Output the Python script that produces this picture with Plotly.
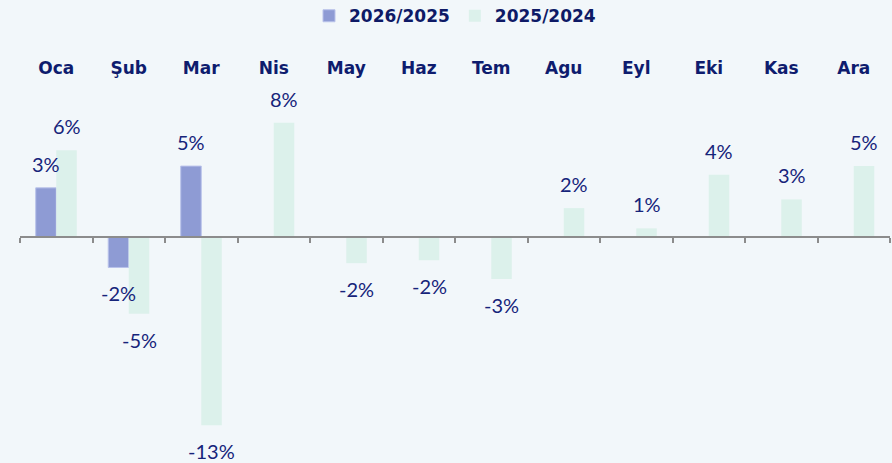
import plotly.graph_objects as go

months = ["Oca", "Şub", "Mar", "Nis", "May", "Haz", "Tem", "Agu", "Eyl", "Eki", "Kas", "Ara"]
s2026_name = "2026/2025"
s2025_name = "2025/2024"
s2026 = [3.4, -2.1, 4.9, None, None, None, None, None, None, None, None, None]
s2025 = [6.0, -5.3, -13.0, 7.9, -1.8, -1.6, -2.9, 2.0, 0.6, 4.3, 2.6, 4.9]

c2026 = "#8E9BD4"
c2025 = "#DCF1EB"
navy = "#16247A"
bg = "#F2F7FA"

bargap = 0.434
ymin, ymax = -15.6, 10.5

fig = go.Figure()
fig.add_trace(go.Bar(name=s2026_name, x=months, y=s2026, marker=dict(color=c2026, line=dict(color="#B9C2EA", width=1))))
fig.add_trace(go.Bar(name=s2025_name, x=months, y=s2025, marker=dict(color=c2025, line=dict(width=0))))

# data labels
off = (1 - bargap) / 4
for series, sgn in ((s2026, -1), (s2025, 1)):
    for i, v in enumerate(series):
        if v is None:
            continue
        fig.add_annotation(
            x=i + sgn * off, y=v, xref="x", yref="y",
            text=f"{round(v):d}%", showarrow=False,
            yanchor="middle", yshift=24 if v > 0 else -26,
            font=dict(family="Lato", size=20, color=navy),
        )

# zero axis with boundary ticks
p0 = (0 - ymin) / (ymax - ymin)
fig.update_layout(
    xaxis2=dict(overlaying="x", anchor="free", position=p0, side="bottom",
                range=[-0.5, len(months) - 0.5], tickvals=[i - 0.5 for i in range(len(months) + 1)],
                showticklabels=False, ticks="outside", ticklen=5, tickwidth=2, tickcolor="#8C8C8C",
                showline=True, linewidth=2, linecolor="#8C8C8C", showgrid=False, zeroline=False),
)
fig.add_trace(go.Scatter(x=[], y=[], xaxis="x2", showlegend=False))

fig.update_layout(
    width=892, height=463,
    margin=dict(l=20, r=2, t=85, b=0),
    paper_bgcolor=bg, plot_bgcolor=bg,
    barmode="group", bargap=bargap, bargroupgap=0,
    xaxis=dict(side="top", type="category", showgrid=False, showline=False, ticks="",
               ticklabelstandoff=7,
               tickfont=dict(family="DejaVu Sans", size=17, color="#0E1C6E", weight="bold")),
    yaxis=dict(range=[ymin, ymax], visible=False, showgrid=False, zeroline=False),
    legend=dict(orientation="h", x=0.5, xanchor="center", y=0.965, yref="container", yanchor="middle",
                font=dict(family="DejaVu Sans", size=17, color="#0E1A66", weight="bold"),
                bgcolor="rgba(0,0,0,0)", itemwidth=30, tracegroupgap=0),
)

fig.write_html("out.html", config={"displayModeBar": False},
               post_script="document.body.style.margin='0';document.body.style.background='%s';" % bg)
